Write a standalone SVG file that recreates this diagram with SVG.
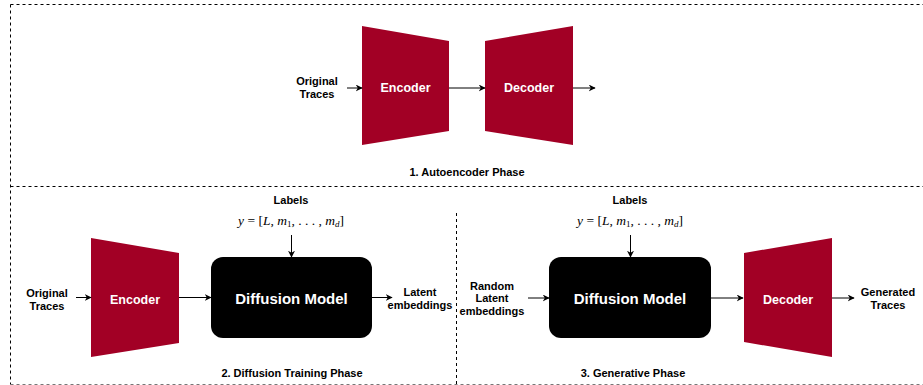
<svg xmlns="http://www.w3.org/2000/svg" width="923" height="385" viewBox="0 0 923 385">
<style>
.frame{fill:none;stroke:#000;stroke-width:1;stroke-dasharray:3 3}
.trap{fill:#A20025;stroke:none}
.box{fill:#000;stroke:none}
.lbl{font-family:"Liberation Sans",Arial,sans-serif;font-weight:bold;font-size:11px;fill:#000;text-anchor:middle}
.wt{font-family:"Liberation Sans",Arial,sans-serif;font-weight:bold;font-size:12.5px;fill:#fff;text-anchor:middle}
.big{font-family:"Liberation Sans",Arial,sans-serif;font-weight:bold;font-size:15px;fill:#fff;text-anchor:middle}
.math{font-family:"Liberation Serif","Times New Roman",serif;font-size:13.5px;fill:#000;text-anchor:middle}
.edge{fill:none;stroke:#000;stroke-width:1;marker-end:url(#ah)}
</style>
<defs>
<marker id="ah" viewBox="0 0 10 10" refX="9" refY="5" markerWidth="7" markerHeight="7" markerUnits="userSpaceOnUse" orient="auto">
<path d="M0,0 L10,5 L0,10 L3,5 Z" fill="#000"/>
</marker>
</defs>
<g id="frames">
<path class="frame" d="M10.5,4.5 H923"/>
<path class="frame" d="M10.5,4.5 V384.5"/>
<path class="frame" d="M10.5,186.5 H923"/>
<path class="frame" d="M10.5,384.5 H923" style="stroke:#777"/>
<path class="frame" d="M456.5,213 V384.5"/>
</g>
<g id="ae-label"><text class="lbl" x="317" y="85">Original</text><text class="lbl" x="317" y="98">Traces</text></g>
<g id="ae-encoder"><polygon class="trap" points="362,26 449,41 449,131 362,145"/><text class="wt" x="405.5" y="92">Encoder</text></g>
<g id="ae-decoder"><polygon class="trap" points="485,41 573,26 573,145 485,131"/><text class="wt" x="529" y="92">Decoder</text></g>
<g id="ae-title"><text class="lbl" x="467" y="176">1. Autoencoder Phase</text></g>

<g id="dt-input"><text class="lbl" x="47" y="297">Original</text><text class="lbl" x="47" y="310">Traces</text></g>
<g id="dt-encoder"><polygon class="trap" points="91,238 179,253 179,343 91,357"/><text class="wt" x="135" y="304">Encoder</text></g>
<g id="dt-diffusion"><rect class="box" x="211" y="257" width="161" height="81" rx="12" ry="12"/><text class="big" x="291.5" y="304">Diffusion Model</text></g>
<g id="dt-labels"><text class="lbl" x="291" y="204">Labels</text>
<text class="math" x="291" y="225"><tspan font-style="italic">y</tspan> = [<tspan font-style="italic">L</tspan>, <tspan font-style="italic">m</tspan><tspan font-size="9" dy="2">1</tspan><tspan dy="-2">, . . . , </tspan><tspan font-style="italic">m</tspan><tspan font-size="9" font-style="italic" dy="2">d</tspan><tspan dy="-2">]</tspan></text></g>
<g id="dt-output"><text class="lbl" x="420" y="296">Latent</text><text class="lbl" x="420" y="309">embeddings</text></g>
<g id="dt-title"><text class="lbl" x="292" y="377">2. Diffusion Training Phase</text></g>

<g id="gp-input"><text class="lbl" x="492" y="290">Random</text><text class="lbl" x="492" y="302">Latent</text><text class="lbl" x="492" y="315">embeddings</text></g>
<g id="gp-diffusion"><rect class="box" x="549" y="257" width="162" height="81" rx="12" ry="12"/><text class="big" x="630" y="304">Diffusion Model</text></g>
<g id="gp-labels"><text class="lbl" x="630" y="204">Labels</text>
<text class="math" x="630" y="225"><tspan font-style="italic">y</tspan> = [<tspan font-style="italic">L</tspan>, <tspan font-style="italic">m</tspan><tspan font-size="9" dy="2">1</tspan><tspan dy="-2">, . . . , </tspan><tspan font-style="italic">m</tspan><tspan font-size="9" font-style="italic" dy="2">d</tspan><tspan dy="-2">]</tspan></text></g>
<g id="gp-decoder"><polygon class="trap" points="744,253 832,238 832,357 744,342"/><text class="wt" x="788" y="304">Decoder</text></g>
<g id="gp-output"><text class="lbl" x="888" y="296">Generated</text><text class="lbl" x="888" y="309">Traces</text></g>
<g id="gp-title"><text class="lbl" x="633" y="377">3. Generative Phase</text></g>

<g id="connectors">
<path class="edge" d="M347,88 H362"/>
<path class="edge" d="M449,88 H485"/>
<path class="edge" d="M573,88 H595"/>
<path class="edge" d="M76,297.5 H91"/>
<path class="edge" d="M179,297.5 H211"/>
<path class="edge" d="M372,297.5 H392"/>
<path class="edge" d="M291.5,235 V257"/>
<path class="edge" d="M528,298 H549"/>
<path class="edge" d="M630.5,235 V257"/>
<path class="edge" d="M711,298 H743"/>
<path class="edge" d="M832,298 H854"/>
</g>
</svg>
